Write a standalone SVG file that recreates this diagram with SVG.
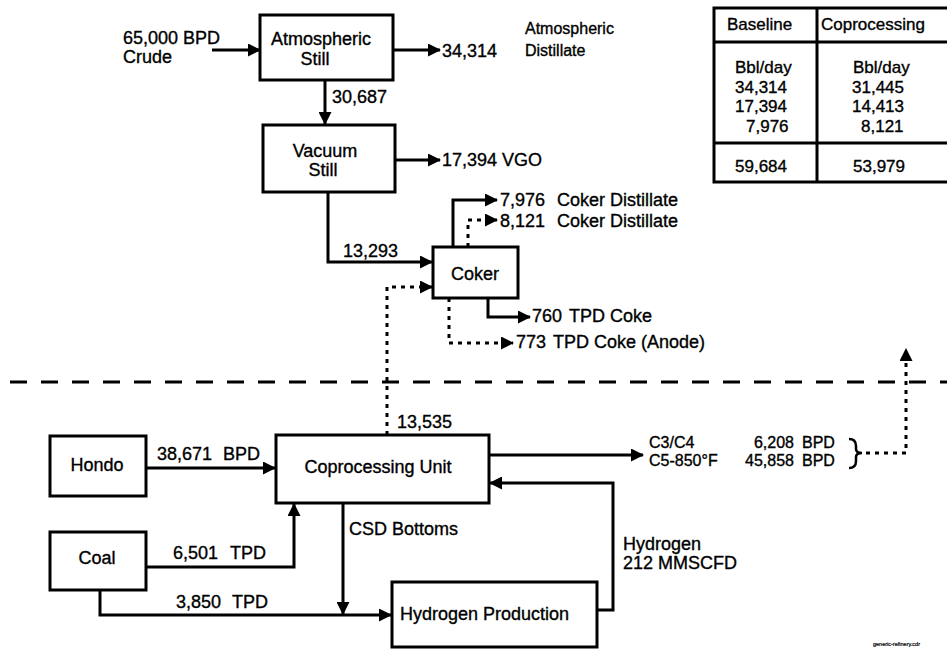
<svg xmlns="http://www.w3.org/2000/svg" width="947" height="650" viewBox="0 0 947 650">
<defs>
<style>
text{font-family:"Liberation Sans",Arial,sans-serif;font-size:18px;fill:#000;stroke:#000;stroke-width:0.35}
.t{font-size:17px}
.s{font-size:16px}
.box{fill:#fff;stroke:#000;stroke-width:3}
.ln{fill:none;stroke:#000;stroke-width:3}
.dot{fill:none;stroke:#000;stroke-width:3;stroke-dasharray:4 5}
.dash{fill:none;stroke:#000;stroke-width:3;stroke-dasharray:17 14}
.mid{text-anchor:middle}
.end{text-anchor:end}
</style>
<marker id="ah" viewBox="0 0 13 13" markerWidth="13" markerHeight="13" refX="12" refY="6.5" orient="auto" markerUnits="userSpaceOnUse">
<path d="M0,0 L13,6.5 L0,13 z" fill="#000"/>
</marker>
</defs>
<rect width="947" height="650" fill="#fff"/>

<g id="connectors">
<path class="ln" d="M212,50 H260" marker-end="url(#ah)"/>
<path class="ln" d="M393,50 H440" marker-end="url(#ah)"/>
<path class="ln" d="M325,80 V124" marker-end="url(#ah)"/>
<path class="ln" d="M395,160 H440" marker-end="url(#ah)"/>
<path class="ln" d="M328,192 V262 H432" marker-end="url(#ah)"/>
<path class="ln" d="M453,247 V200 H497" marker-end="url(#ah)"/>
<path class="dot" d="M468,247 V220 H497" marker-end="url(#ah)"/>
<path class="ln" d="M488,298 V317 H530" marker-end="url(#ah)"/>
<path class="dot" d="M449,298 V343 H513" marker-end="url(#ah)"/>
<path class="dot" d="M387,435 V287 H432" marker-end="url(#ah)"/>
<path class="dash" d="M10,382 H947"/>
<path class="ln" d="M146,468 H275" marker-end="url(#ah)"/>
<path class="ln" d="M146,567 H294 V504" marker-end="url(#ah)"/>
<path class="ln" d="M100,590 V615 H391" marker-end="url(#ah)"/>
<path class="ln" d="M343,503 V614" marker-end="url(#ah)"/>
<path class="ln" d="M597,610 H613 V483 H490" marker-end="url(#ah)"/>
<path class="ln" d="M489,455 H643" marker-end="url(#ah)"/>
<path fill="none" stroke="#000" stroke-width="2.5" d="M849,439 Q856,439 856,446 V449 Q856,453 862,453 Q856,453 856,457 V461 Q856,468 849,468"/>
<path class="dot" d="M866,453 H906 V349" marker-end="url(#ah)"/>
</g>

<g id="atmospheric-still">
<rect class="box" x="260" y="15" width="133" height="65"/>
<text x="321" y="45" class="mid">Atmospheric</text>
<text x="315" y="65" class="mid">Still</text>
</g>
<g id="crude-label">
<text x="123" y="44">65,000 BPD</text>
<text x="123" y="63">Crude</text>
</g>
<g id="atm-distillate-label">
<text class="s" x="525" y="34">Atmospheric</text>
<text x="442" y="57">34,314</text>
<text class="s" x="525" y="56">Distillate</text>
</g>
<text x="332" y="103">30,687</text>

<g id="vacuum-still">
<rect class="box" x="263" y="125" width="132" height="67"/>
<text x="325" y="157" class="mid">Vacuum</text>
<text x="323" y="176" class="mid">Still</text>
</g>
<text x="442" y="166">17,394 VGO</text>
<text x="343" y="257">13,293</text>

<g id="coker">
<rect class="box" x="433" y="247" width="85" height="51"/>
<text x="475" y="280" class="mid">Coker</text>
</g>
<text y="206"><tspan x="500">7,976</tspan><tspan x="557">Coker Distillate</tspan></text>
<text y="227"><tspan x="500">8,121</tspan><tspan x="557">Coker Distillate</tspan></text>
<text y="322"><tspan x="532">760</tspan><tspan x="569">TPD Coke</tspan></text>
<text y="348"><tspan x="516">773</tspan><tspan x="553">TPD Coke (Anode)</tspan></text>

<g id="table">
<rect class="box" x="714" y="8" width="240" height="174" fill="none"/>
<path class="ln" d="M714,42 H947 M817,8 V182 M714,143 H947"/>
<text class="t" x="727" y="30">Baseline</text>
<text class="t" x="821" y="30">Coprocessing</text>
<text class="t" x="735" y="73">Bbl/day</text>
<text class="t" x="735" y="93">34,314</text>
<text class="t" x="735" y="112">17,394</text>
<text class="t" x="746" y="132">7,976</text>
<text class="t" x="853" y="73">Bbl/day</text>
<text class="t" x="852" y="93">31,445</text>
<text class="t" x="852" y="112">14,413</text>
<text class="t" x="861" y="132">8,121</text>
<text class="t" x="735" y="172">59,684</text>
<text class="t" x="853" y="172">53,979</text>
</g>

<g id="hondo">
<rect class="box" x="50" y="436" width="96" height="60"/>
<text x="97" y="471" class="mid">Hondo</text>
</g>
<g id="coal">
<rect class="box" x="50" y="532" width="96" height="58"/>
<text x="97" y="564" class="mid">Coal</text>
</g>
<g id="coprocessing-unit">
<rect class="box" x="276" y="435" width="213" height="68"/>
<text x="378" y="473" class="mid">Coprocessing Unit</text>
</g>
<g id="hydrogen-production">
<rect class="box" x="392" y="582" width="205" height="65"/>
<text x="400" y="620">Hydrogen Production</text>
</g>

<text x="397" y="428">13,535</text>
<text y="460"><tspan x="157">38,671</tspan><tspan x="223">BPD</tspan></text>
<text y="559"><tspan x="173">6,501</tspan><tspan x="230">TPD</tspan></text>
<text y="608"><tspan x="176">3,850</tspan><tspan x="232">TPD</tspan></text>
<text x="349" y="535">CSD Bottoms</text>
<text x="623" y="550">Hydrogen</text>
<text x="623" y="569">212 MMSCFD</text>
<text class="s" x="649" y="448">C3/C4</text>
<text class="s end" x="794" y="448">6,208</text>
<text class="s" x="802" y="448">BPD</text>
<text class="s" x="649" y="466">C5-850°F</text>
<text class="s end" x="794" y="466">45,858</text>
<text class="s" x="802" y="466">BPD</text>
<text x="873" y="646" style="font-size:5.5px;stroke-width:0.2">generic-refinery.cdr</text>
</svg>
